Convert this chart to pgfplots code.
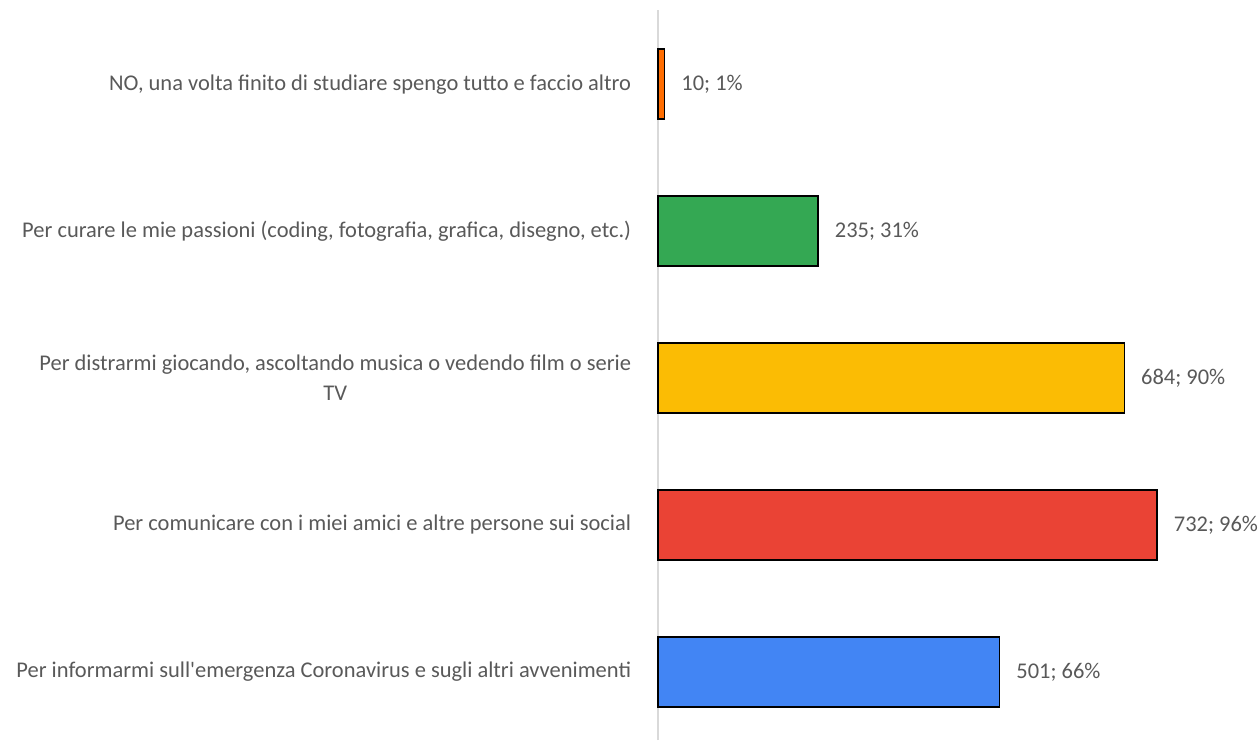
\documentclass[border=0pt]{standalone}
\usepackage{pgfplots}
\pgfplotsset{compat=1.18}
\usepackage{fontspec}
\setmainfont{Carlito}
\definecolor{cOrange}{HTML}{FF6D01}
\definecolor{cGreen}{HTML}{34A853}
\definecolor{cYellow}{HTML}{FBBC04}
\definecolor{cRed}{HTML}{EA4335}
\definecolor{cBlue}{HTML}{4285F4}
\definecolor{txt}{HTML}{595959}
\protected\def\sc{;}
\begin{document}
\begin{tikzpicture}
\begin{axis}[
    scale only axis,
    width=301pt, height=369pt,
    xmin=0, xmax=885,
    ymin=-0.464, ymax=4.573,
    xbar, bar width=0.478, bar shift=0pt,
    axis x line=none,
    axis y line=left,
    y axis line style={draw=none},
    ytick style={draw=none},
    clip=false,
    ytick={0,1,2,3,4},
    yticklabels={
      Per informarmi sull\textquotesingle emergenza Coronavirus e sugli altri avvenimenti,
      Per comunicare con i miei amici e altre persone sui social,
      {Per distrarmi giocando, ascoltando musica o vedendo film o serie\\TV},
      {Per curare le mie passioni (coding, fotografia, grafica, disegno, etc.)},
      {NO, una volta finito di studiare spengo tutto e faccio altro}},
    font=\fontsize{11.2pt}{15pt}\selectfont,
    yticklabel style={align=center, text=txt, inner sep=0pt, anchor=east, xshift=-11pt},
    point meta=explicit symbolic,
    nodes near coords,
    every node near coord/.append style={anchor=west, text=txt, inner sep=0pt, xshift=8pt, font=\fontsize{11.2pt}{15pt}\selectfont},
]
% linea verticale dell'asse
\draw[black!15, line width=1pt] (axis cs:0,-0.464) -- (axis cs:0,4.505);

\addplot[fill=cBlue, draw=black, line width=0.8pt] coordinates {(501,0) [501\sc{} 66\%]};
\addplot[fill=cRed, draw=black, line width=0.8pt] coordinates {(732,1) [732\sc{} 96\%]};
\addplot[fill=cYellow, draw=black, line width=0.8pt] coordinates {(684,2) [684\sc{} 90\%]};
\addplot[fill=cGreen, draw=black, line width=0.8pt] coordinates {(235,3) [235\sc{} 31\%]};
\addplot[fill=cOrange, draw=black, line width=0.8pt] coordinates {(10,4) [10\sc{} 1\%]};
\end{axis}
% margine sinistro come nel riferimento
\path (current axis.south west) ++(-328pt,0);
\end{tikzpicture}
\end{document}
